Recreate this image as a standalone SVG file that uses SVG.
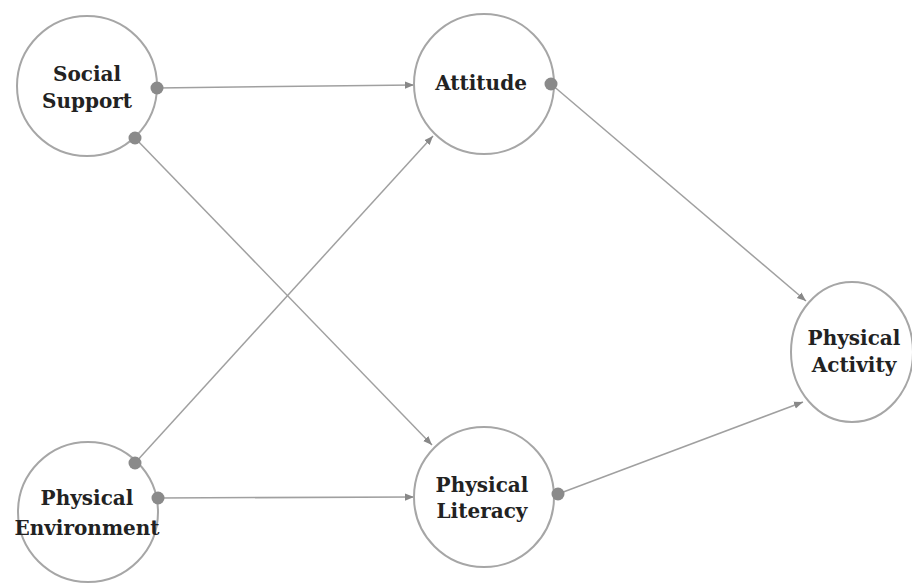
<svg xmlns="http://www.w3.org/2000/svg" width="912" height="583" viewBox="0 0 912 583">
<defs>
<style>
.node{fill:#fff;stroke:#a6a6a6;stroke-width:2}
.lbl{font-family:"DejaVu Serif","Liberation Serif",serif;font-weight:bold;font-size:20px;fill:#222;text-anchor:middle}
.edge{stroke:#a0a0a0;stroke-width:1.5;fill:none;marker-end:url(#ah)}
.dot{fill:#8a8a8a}
</style>
<marker id="ah" viewBox="0 0 10 10" refX="10" refY="5" markerWidth="6" markerHeight="6" orient="auto" markerUnits="strokeWidth">
<path d="M0,1 L10,5 L0,9 z" fill="#888"/>
</marker>
</defs>
<rect width="912" height="583" fill="#fff"/>
<g id="connectors">
<line class="edge" x1="157" y1="88" x2="414" y2="85"/>
<line class="edge" x1="135" y1="138" x2="432" y2="445"/>
<line class="edge" x1="135" y1="463" x2="433" y2="136"/>
<line class="edge" x1="158" y1="498" x2="414" y2="497"/>
<line class="edge" x1="551" y1="84" x2="806" y2="301"/>
<line class="edge" x1="558" y1="494" x2="803" y2="402"/>
</g>
<g id="social-support">
<circle class="node" cx="87" cy="86" r="70"/>
<text class="lbl" x="87" y="81">Social</text>
<text class="lbl" x="87" y="108">Support</text>
<circle class="dot" cx="157" cy="88" r="6.5"/>
<circle class="dot" cx="135" cy="138" r="6.5"/>
</g>
<g id="attitude">
<circle class="node" cx="484" cy="84" r="70"/>
<text class="lbl" x="481" y="90">Attitude</text>
<circle class="dot" cx="551" cy="84" r="6.5"/>
</g>
<g id="physical-environment">
<circle class="node" cx="88" cy="512" r="70"/>
<text class="lbl" x="87" y="505">Physical</text>
<text class="lbl" x="87" y="535">Environment</text>
<circle class="dot" cx="135" cy="463" r="6.5"/>
<circle class="dot" cx="158" cy="498" r="6.5"/>
</g>
<g id="physical-literacy">
<circle class="node" cx="484" cy="497" r="70"/>
<text class="lbl" x="482" y="492">Physical</text>
<text class="lbl" x="482" y="518">Literacy</text>
<circle class="dot" cx="558" cy="494" r="6.5"/>
</g>
<g id="physical-activity">
<ellipse class="node" cx="852" cy="352" rx="61" ry="70"/>
<text class="lbl" x="854" y="345">Physical</text>
<text class="lbl" x="854" y="372">Activity</text>
</g>
</svg>
